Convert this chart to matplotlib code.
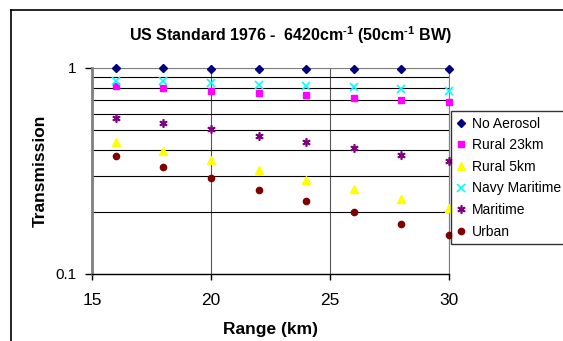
import matplotlib.pyplot as plt
from matplotlib.ticker import FixedLocator, NullFormatter
from matplotlib.lines import Line2D

plt.rcParams['font.family'] = ['Liberation Sans', 'DejaVu Sans']
plt.rcParams['mathtext.fontset'] = 'custom'
plt.rcParams['mathtext.rm'] = 'Liberation Sans:bold'
plt.rcParams['mathtext.bf'] = 'Liberation Sans:bold'
plt.rcParams['mathtext.it'] = 'Liberation Sans:bold'

# Range (km)
range_km = [16, 18, 20, 22, 24, 26, 28, 30]

# transmission
no_aerosol = [0.995, 0.995, 0.993, 0.993, 0.992, 0.992, 0.991, 0.990]
rural_23km = [0.818, 0.800, 0.776, 0.753, 0.738, 0.713, 0.702, 0.680]
rural_5km = [0.437, 0.394, 0.356, 0.319, 0.287, 0.259, 0.231, 0.208]
navy_maritime = [0.868, 0.865, 0.846, 0.830, 0.815, 0.809, 0.788, 0.773]
maritime = [0.574, 0.541, 0.504, 0.469, 0.437, 0.408, 0.378, 0.352]
urban = [0.373, 0.330, 0.292, 0.256, 0.226, 0.200, 0.175, 0.155]

series = [
    ('No Aerosol', no_aerosol, 'D', '#000080', 4.5),
    ('Rural 23km', rural_23km, 's', '#FF00FF', 5),
    ('Rural 5km', rural_5km, '^', '#FFFF00', 6),
    ('Navy Maritime', navy_maritime, 'x', '#00FFFF', 5.5),
    ('Maritime', maritime, (6, 2, 0), '#800080', 6),
    ('Urban', urban, 'o', '#800000', 4.5),
]

fig = plt.figure(figsize=(5.63, 3.41), dpi=100)
ax = fig.add_axes([0.1634, 0.1965, 0.6341, 0.6041])

# outer chart border (only left and top are inside the picture)
bx, by = 11 / 563, 1 - 10 / 341
fig.add_artist(Line2D([bx, bx], [0, by], transform=fig.transFigure, color='black', lw=1.2))
fig.add_artist(Line2D([bx, 1], [by, by], transform=fig.transFigure, color='black', lw=1.2))

ax.set_yscale('log')
ax.set_ylim(0.1, 1)
ax.set_xlim(15, 30)

for name, vals, mk, col, ms in series:
    kw = dict(markerfacecolor=col, markeredgecolor=col)
    if mk == 'x' or isinstance(mk, tuple):
        kw = dict(color=col, markeredgewidth=1.2)
    ax.plot(range_km, vals, linestyle='none', marker=mk, markersize=ms,
            label=name, clip_on=False, zorder=3, **kw)

ax.yaxis.set_major_locator(FixedLocator([0.1, 1]))
ax.set_yticklabels(['0.1', '1'])
ax.yaxis.set_minor_locator(FixedLocator([0.2, 0.3, 0.4, 0.5, 0.6, 0.7, 0.8, 0.9]))
ax.yaxis.set_minor_formatter(NullFormatter())
ax.set_xticks([15, 20, 25, 30])

ax.tick_params(axis='y', which='major', length=5, width=1, labelsize=11, direction='out', pad=6)
ax.tick_params(axis='y', which='minor', length=0)
ax.tick_params(axis='x', length=4, width=1, labelsize=12.5, direction='out', pad=10)

ax.grid(True, axis='y', which='minor', color='black', linewidth=0.8)
ax.grid(True, axis='y', which='major', color='#808080', linewidth=0.8)
ax.grid(True, axis='x', which='major', color='#555555', linewidth=0.8)
ax.set_axisbelow(True)

ax.spines['left'].set_color('#808080')
ax.spines['left'].set_linewidth(2)
ax.spines['bottom'].set_color('black')
ax.spines['bottom'].set_linewidth(1)
for s in ('top', 'right'):
    ax.spines[s].set_color('#808080')
    ax.spines[s].set_linewidth(0.8)

ax.set_xlabel('Range (km)', fontsize=12.5, fontweight='bold', labelpad=10)
ax.set_ylabel('Transmission', fontsize=12.5, fontweight='bold', labelpad=6)

fig.text(290 / 563, 1 - 35 / 341,
         r'US Standard 1976 -  6420cm$^{\text{-1}}$ (50cm$^{\text{-1}}$ BW)',
         ha='center', va='center', fontsize=11.5, fontweight='bold')

leg = fig.legend(loc='upper left', bbox_to_anchor=(451 / 563, 1 - 111 / 341),
                 fontsize=10, frameon=True, fancybox=False, edgecolor='black',
                 handlelength=0.6, handletextpad=0.5, borderpad=0.4,
                 labelspacing=0.55, borderaxespad=0)
leg.get_frame().set_linewidth(1)

fig.savefig('out.png', dpi=100)
